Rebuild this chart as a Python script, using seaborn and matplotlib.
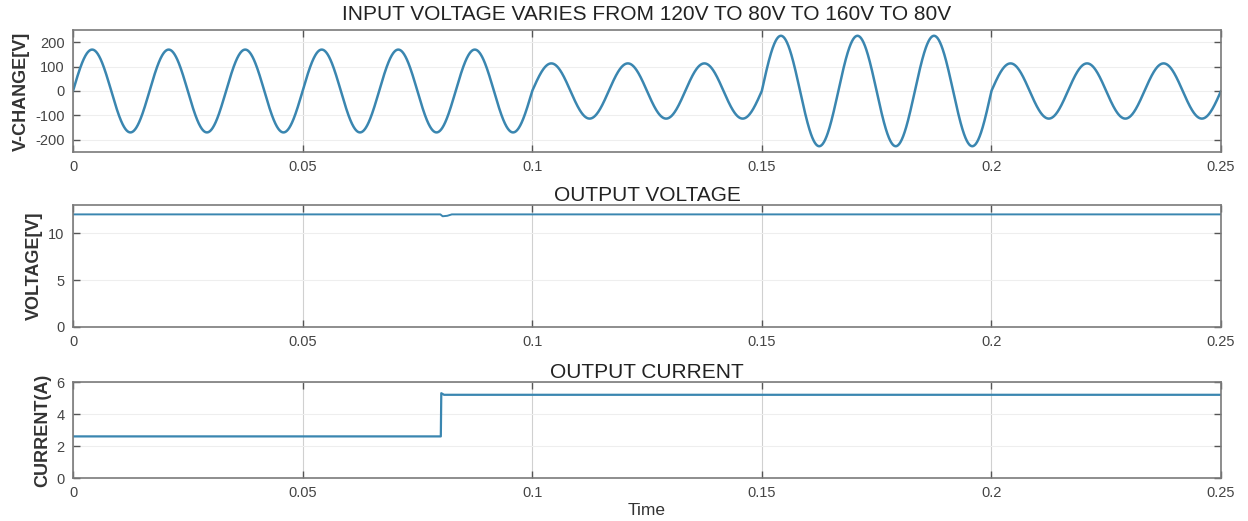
import numpy as np
import pandas as pd
import matplotlib
matplotlib.use("Agg")
import matplotlib.pyplot as plt
import seaborn as sns

# input voltage: RMS level per time segment (60 Hz mains)
seg_edges = [0.0, 0.1, 0.15, 0.2, 0.25]
seg_rms = [120, 80, 160, 80]
freq = 60

# output voltage (small disturbance at load step)
vout_t = [0.0, 0.0800, 0.0805, 0.0815, 0.0825, 0.25]
vout_v = [12.0, 12.0, 11.8, 11.85, 12.0, 12.0]

# output current step
iout_t = [0.0, 0.0801, 0.0802, 0.0808, 0.25]
iout_a = [2.6, 2.6, 5.3, 5.2, 5.2]

xticks = [0, 0.05, 0.1, 0.15, 0.2, 0.25]
xticklabels = ["0", "0.05", "0.1", "0.15", "0.2", "0.25"]

sns.set_style("white")
plt.rcParams["font.family"] = ["Liberation Sans", "DejaVu Sans"]
plt.rcParams["axes.unicode_minus"] = False

# build the sine from the segment levels
t = np.linspace(0, 0.25, 5001)
amp = np.zeros_like(t)
for a, b, r in zip(seg_edges[:-1], seg_edges[1:], seg_rms):
    amp[(t >= a) & (t <= b)] = r * np.sqrt(2)
vin = pd.DataFrame({"t": t, "v": amp * np.sin(2 * np.pi * freq * t)})
vout = pd.DataFrame({"t": vout_t, "v": vout_v})
iout = pd.DataFrame({"t": iout_t, "i": iout_a})

W, H = 1248, 521
fig = plt.figure(figsize=(W / 100, H / 100), dpi=100)

def make_ax(top, bottom, left=73, right=1221):
    return fig.add_axes([left / W, 1 - bottom / H, (right - left) / W, (bottom - top) / H])

ax1 = make_ax(30, 152)
ax2 = make_ax(205, 327)
ax3 = make_ax(382, 478)

line_c = "#3a86b0"
sns.lineplot(data=vin, x="t", y="v", ax=ax1, color=line_c, lw=1.8)
sns.lineplot(data=vout, x="t", y="v", ax=ax2, color=line_c, lw=1.4)
sns.lineplot(data=iout, x="t", y="i", ax=ax3, color=line_c, lw=1.6)

ax1.set_ylim(-250, 250)
ax1.set_yticks([-200, -100, 0, 100, 200])
ax2.set_ylim(0, 13)
ax2.set_yticks([0, 5, 10])
ax3.set_ylim(0, 6)
ax3.set_yticks([0, 2, 4, 6])

titles = ["INPUT VOLTAGE VARIES FROM 120V TO 80V TO 160V TO 80V",
          "OUTPUT VOLTAGE", "OUTPUT CURRENT"]
ylabels = ["V-CHANGE[V]", "VOLTAGE[V]", "CURRENT(A)"]
title_pads = [7, 3, 3]

for ax, ttl, yl, tp in zip([ax1, ax2, ax3], titles, ylabels, title_pads):
    ax.set_xlim(0, 0.25)
    ax.set_xticks(xticks)
    ax.set_xticklabels(xticklabels)
    ax.set_title(ttl, fontsize=15, color="#222222", pad=tp)
    ax.set_ylabel(yl, fontsize=13, fontweight="bold", color="#333333", labelpad=4)
    ax.set_xlabel("")
    ax.grid(True, axis="x", color="#d0d0d0", lw=0.8)
    ax.grid(True, axis="y", color="#eeeeee", lw=0.8)
    ax.tick_params(direction="in", length=5, width=1, colors="#555555",
                   labelcolor="#444444", labelsize=10.5, top=True, right=True,
                   left=True, bottom=True, pad=6)
    for s in ax.spines.values():
        s.set_color("#7a7a7a")
        s.set_linewidth(1.2)

ax3.set_xlabel("Time", fontsize=12.5, color="#333333", labelpad=2)

fig.savefig("out.png", dpi=100)
